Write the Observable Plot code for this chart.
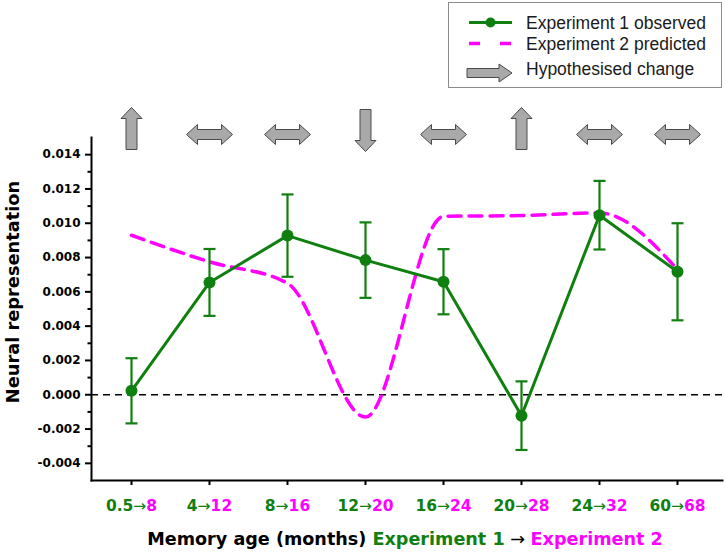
<!DOCTYPE html>
<html>
<head>
<meta charset="utf-8">
<script src="https://cdn.jsdelivr.net/npm/d3@7"></script>
<script src="https://cdn.jsdelivr.net/npm/@observablehq/plot@0.6"></script>
<style>
  body { margin: 0; background: #fff; }
  #chart { position: relative; width: 725px; height: 554px; }
</style>
</head>
<body>
<div id="chart"></div>
<script>
// ---- data ----
const categories = ["0.5→8", "4→12", "8→16", "12→20", "16→24", "20→28", "24→32", "60→68"];
const observed   = [0.00023, 0.00655, 0.00928, 0.00785, 0.00659, -0.00122, 0.01047, 0.00717];
const stdErr     = [0.0019, 0.00195, 0.0024, 0.0022, 0.0019, 0.0020, 0.0020, 0.00283];
const predicted  = [0.0093, 0.00775, 0.0065, -0.0013, 0.0104, 0.01045, 0.0106, 0.0073];
const change     = ["up", "both", "both", "down", "both", "up", "both", "both"];
const yTicks      = [-0.004, -0.002, 0, 0.002, 0.004, 0.006, 0.008, 0.010, 0.012, 0.014];
const yMinorTicks = [-0.003, -0.001, 0.001, 0.003, 0.005, 0.007, 0.009, 0.011, 0.013];
const legendLabels = ["Experiment 1 observed", "Experiment 2 predicted", "Hypothesised change"];

const GREEN = "#0f800f";
const MAGENTA = "#ff00ff";
const ARROW_FILL = "#a9a9a9";
const ARROW_STROKE = "#4a4a4a";

const rows = categories.map((c, i) => ({
  cat: c,
  obs: observed[i],
  lo: observed[i] - stdErr[i],
  hi: observed[i] + stdErr[i],
  pred: predicted[i],
  change: change[i]
}));

// ---- custom symbols ----
const capSym = { draw(ctx) { ctx.moveTo(-6, 0); ctx.lineTo(6, 0); } };
const upSym = { draw(ctx) {
  ctx.moveTo(0, -21); ctx.lineTo(10.5, -10); ctx.lineTo(5.5, -10); ctx.lineTo(5.5, 21);
  ctx.lineTo(-5.5, 21); ctx.lineTo(-5.5, -10); ctx.lineTo(-10.5, -10); ctx.closePath();
} };
const downSym = { draw(ctx) {
  ctx.moveTo(0, 21); ctx.lineTo(10.5, 10); ctx.lineTo(5.5, 10); ctx.lineTo(5.5, -21);
  ctx.lineTo(-5.5, -21); ctx.lineTo(-5.5, 10); ctx.lineTo(-10.5, 10); ctx.closePath();
} };
const bothSym = { draw(ctx) {
  ctx.moveTo(-23, 0); ctx.lineTo(-12, -10); ctx.lineTo(-12, -5); ctx.lineTo(12, -5);
  ctx.lineTo(12, -10); ctx.lineTo(23, 0); ctx.lineTo(12, 10); ctx.lineTo(12, 5);
  ctx.lineTo(-12, 5); ctx.lineTo(-12, 10); ctx.closePath();
} };

const arrowStyle = { fill: ARROW_FILL, stroke: ARROW_STROKE, strokeWidth: 1, r: 5, frameAnchor: "top" };

const svg = Plot.plot({
  width: 725,
  height: 554,
  marginLeft: 91,
  marginRight: 3,
  marginTop: 137,
  marginBottom: 74,
  style: { fontFamily: "'DejaVu Sans', sans-serif", background: "white", color: "black", overflow: "visible" },
  x: { type: "point", domain: categories, range: [130, 677], padding: 0, label: null },
  y: { domain: [-0.005, 0.015], label: null },
  marks: [
    Plot.ruleY([0], { stroke: "black", strokeWidth: 1.6, strokeDasharray: "7,5" }),
    Plot.line(rows, { x: "cat", y: "pred", curve: "monotone-x", stroke: MAGENTA, strokeWidth: 3.5, strokeDasharray: "13,8" }),
    Plot.line(rows, { x: "cat", y: "obs", stroke: GREEN, strokeWidth: 3 }),
    Plot.ruleX(rows, { x: "cat", y1: "lo", y2: "hi", stroke: GREEN, strokeWidth: 2.2 }),
    Plot.dot(rows, { x: "cat", y: "hi", symbol: capSym, r: 4, fill: "none", stroke: GREEN, strokeWidth: 2.2 }),
    Plot.dot(rows, { x: "cat", y: "lo", symbol: capSym, r: 4, fill: "none", stroke: GREEN, strokeWidth: 2.2 }),
    Plot.dot(rows, { x: "cat", y: "obs", r: 6, fill: GREEN }),
    Plot.dot(rows.filter(d => d.change === "up"),   { x: "cat", dy: -9, symbol: upSym, ...arrowStyle }),
    Plot.dot(rows.filter(d => d.change === "down"), { x: "cat", dy: -7, symbol: downSym, ...arrowStyle }),
    Plot.dot(rows.filter(d => d.change === "both"), { x: "cat", dy: -3, symbol: bothSym, ...arrowStyle }),
    Plot.frame({ anchor: "left", stroke: "black", strokeWidth: 2 }),
    Plot.frame({ anchor: "bottom", stroke: "black", strokeWidth: 2 }),
    Plot.axisY({ ticks: yTicks, tickSize: 6, tickPadding: 5, strokeWidth: 2, fontSize: 12, fontWeight: "bold",
                 tickFormat: d => d.toFixed(3), label: null }),
    Plot.axisY({ ticks: yMinorTicks, tickSize: 3.5, strokeWidth: 2, tickFormat: () => "", label: null }),
    Plot.axisX({ tickSize: 5, tickPadding: 14, strokeWidth: 2, fontSize: 15.5, fontWeight: "bold", label: null })
  ]
});

const root = d3.select(svg);

// colour the two halves of each x tick label
root.selectAll('g[aria-label="x-axis tick label"] text').each(function () {
  const t = this.textContent;
  const [a, b] = t.split("→");
  const sel = d3.select(this);
  sel.text(null);
  sel.append("tspan").attr("fill", GREEN).text(a);
  sel.append("tspan").attr("fill", GREEN).attr("font-weight", "normal").text("→");
  sel.append("tspan").attr("fill", MAGENTA).text(b);
});

// y axis title
root.append("text")
  .attr("transform", "translate(19,292) rotate(-90)")
  .attr("text-anchor", "middle")
  .attr("font-family", "'DejaVu Sans', sans-serif")
  .attr("font-weight", "bold")
  .attr("font-size", 17.8)
  .attr("fill", "black")
  .text("Neural representation");

// x axis title
const xt = root.append("text")
  .attr("x", 405).attr("y", 545)
  .attr("text-anchor", "middle")
  .attr("font-family", "'DejaVu Sans', sans-serif")
  .attr("font-weight", "bold")
  .attr("font-size", 17.6);
xt.append("tspan").attr("fill", "black").text("Memory age (months) ");
xt.append("tspan").attr("fill", GREEN).text("Experiment 1");
xt.append("tspan").attr("fill", "black").attr("font-weight", "normal").text(" → ");
xt.append("tspan").attr("fill", MAGENTA).text("Experiment 2");

// legend
const lg = root.append("g")
  .attr("font-family", "'Liberation Sans', Arial, sans-serif")
  .attr("font-size", 17.5)
  .attr("text-anchor", "start");
lg.append("rect").attr("x", 448.5).attr("y", 2.5).attr("width", 273).attr("height", 85)
  .attr("fill", "white").attr("stroke", "#8c8c8c").attr("stroke-width", 1);
lg.append("line").attr("x1", 469).attr("x2", 512).attr("y1", 22.5).attr("y2", 22.5)
  .attr("stroke", GREEN).attr("stroke-width", 3);
lg.append("circle").attr("cx", 490.5).attr("cy", 22.5).attr("r", 5).attr("fill", GREEN);
lg.append("line").attr("x1", 469).attr("x2", 512).attr("y1", 43.5).attr("y2", 43.5)
  .attr("stroke", MAGENTA).attr("stroke-width", 3.5).attr("stroke-dasharray", "11,20");
lg.append("path")
  .attr("d", "M467,68.5 L499,68.5 L499,64 L512,73 L499,82 L499,77.5 L467,77.5 Z")
  .attr("fill", ARROW_FILL).attr("stroke", ARROW_STROKE).attr("stroke-width", 1);
[28.5, 49.5, 74.5].forEach((y, i) => {
  lg.append("text").attr("x", 526).attr("y", y).attr("text-anchor", "start")
    .attr("fill", "#1a1a1a").text(legendLabels[i]);
});

document.getElementById("chart").appendChild(svg);
</script>
</body>
</html>
